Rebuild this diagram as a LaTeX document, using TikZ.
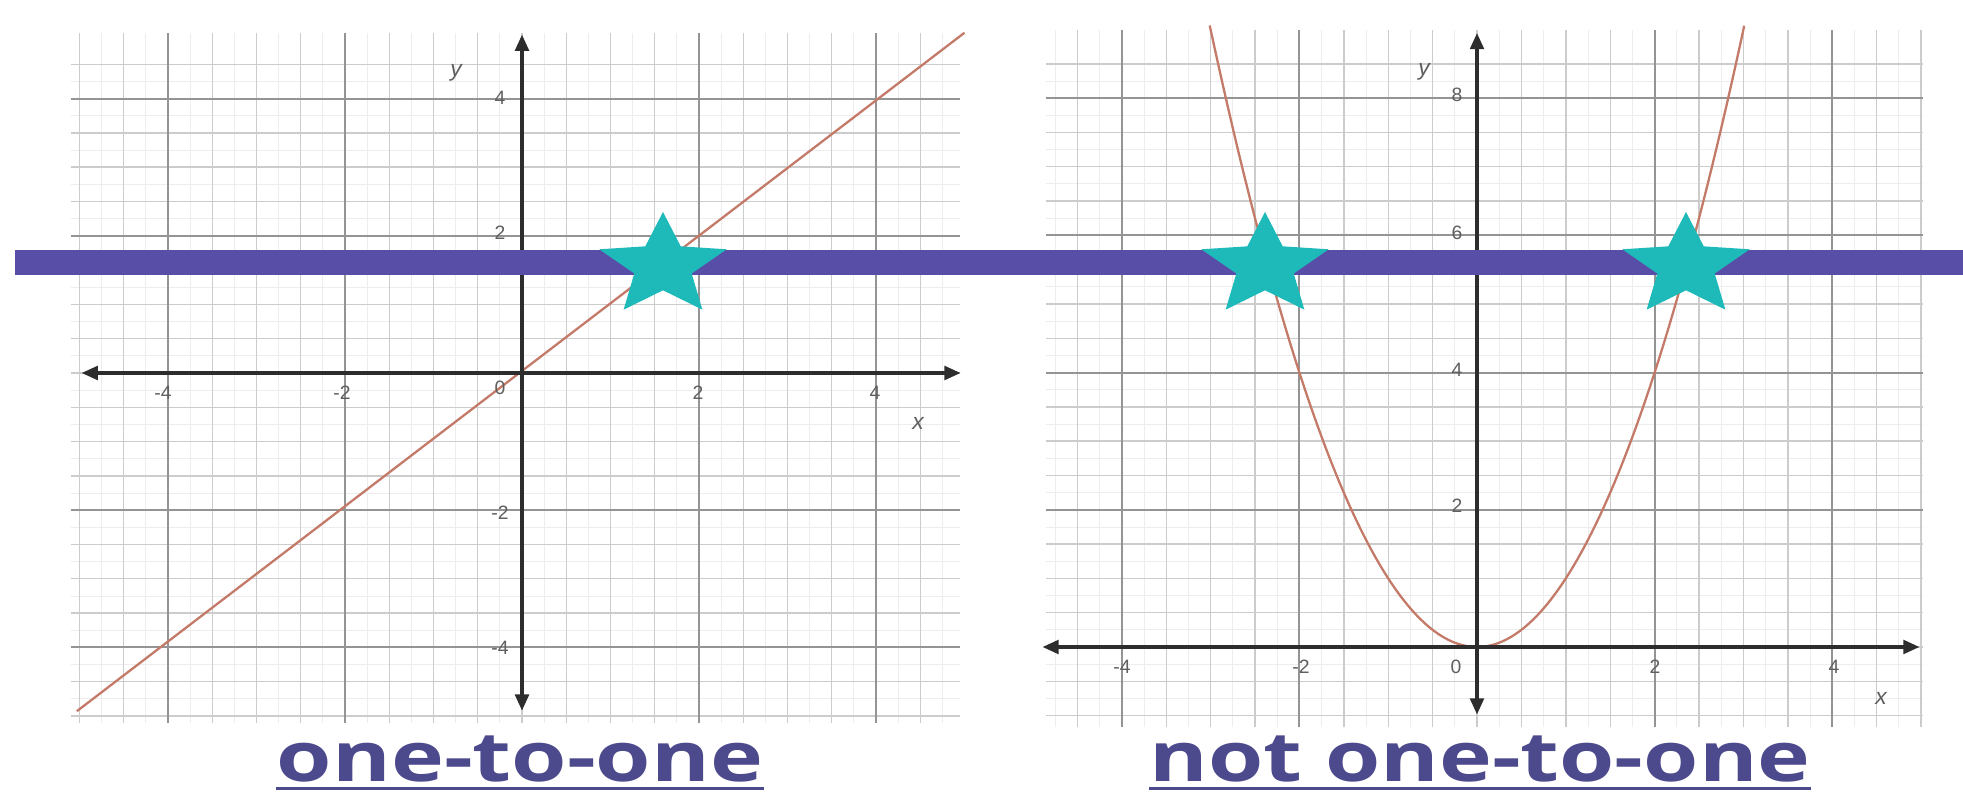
\documentclass[tikz,border=0pt]{standalone}
\usepackage{fontspec}
\usepackage{graphicx}
\setmainfont{Liberation Sans}
\newfontfamily\titlefont{Open Sans}
\usetikzlibrary{arrows.meta}
\definecolor{bandcol}{RGB}{88,78,168}
\definecolor{starcol}{RGB}{30,186,186}
\definecolor{curvecol}{RGB}{196,122,104}
\definecolor{titlecol}{RGB}{76,73,140}
\definecolor{axcol}{RGB}{45,45,45}
\definecolor{labcol}{RGB}{95,95,95}
\begin{document}
\begin{tikzpicture}[x=0.01cm,y=-0.01cm,
  gridfine/.style={draw=black!7, line width=0.25pt},
  gridminor/.style={draw=black!20, line width=0.4pt},
  gridmajor/.style={draw=black!42, line width=0.6pt},
  axisline/.style={draw=axcol, line width=0.9pt, {Triangle[length=4.6pt,width=3.9pt]}-{Triangle[length=4.6pt,width=3.9pt]}},
  curve/.style={draw=curvecol, line width=0.65pt},
  bandstyle/.style={fill=bandcol},
  starshape/.style={fill=starcol},
  ticklab/.style={text=labcol, font=\fontsize{5.5pt}{6pt}\selectfont, inner sep=0pt},
  axlab/.style={text=labcol, font=\fontsize{6.5pt}{7pt}\selectfont\itshape, inner sep=0pt},
  titletext/.style={text=titlecol, inner sep=0pt, anchor=base},
  uline/.style={draw=titlecol, line width=0.85pt}]
\useasboundingbox (0,0) rectangle (1963,795);
\fill[white] (0,0) rectangle (1963,795);

% ---------- left graph: y = x ----------
\begin{scope}[shift={(522,373)}, xscale=88.5, yscale=-68.6]
  \foreach \i in {-20,...,19} \draw[gridfine] (\i/4,-5.1) -- (\i/4,4.95);
  \foreach \i in {-20,...,18} \draw[gridfine] (-5.1,\i/4) -- (4.95,\i/4);
  \foreach \i in {-10,...,9} \draw[gridminor] (\i/2,-5.1) -- (\i/2,4.95);
  \foreach \i in {-10,...,9} \draw[gridminor] (-5.1,\i/2) -- (4.95,\i/2);
  \foreach \u in {-4,-2,2,4} \draw[gridmajor] (\u,-5.1) -- (\u,4.95);
  \foreach \u in {-4,-2,2,4} \draw[gridmajor] (-5.1,\u) -- (4.95,\u);
  \draw[curve] (-5.03,-4.93) -- (5,4.96);
  \coordinate (lxa) at (-5.02,0); \coordinate (lxb) at (5,0);
  \coordinate (lya) at (0,-4.95); \coordinate (lyb) at (0,4.96);
  \draw[axisline] (lxa) -- (lxb);
  \draw[axisline] (lya) -- (lyb);
\end{scope}
\node[axlab] (ly) at (456,73) {y};
\node[axlab] (lx) at (918,423) {x};
\node[ticklab] (lxm4) at (163,393) {-4};
\node[ticklab] (lxm2) at (342,393) {-2};
\node[ticklab] (lx0) at (500,388) {0};
\node[ticklab] (lx2) at (698,393) {2};
\node[ticklab] (lx4) at (875,393) {4};
\node[ticklab] (ly4) at (500,98) {4};
\node[ticklab] (ly2) at (500,233) {2};
\node[ticklab] (lym2) at (500,513) {-2};
\node[ticklab] (lym4) at (500,648) {-4};

% ---------- right graph: y = x^2 ----------
\begin{scope}[shift={(1477,647)}, xscale=88.8, yscale=-68.6]
  \foreach \i in {-19,...,20} \draw[gridfine] (\i/4,-1.17) -- (\i/4,9.0);
  \foreach \i in {-4,...,34} \draw[gridfine] (-4.85,\i/4) -- (5.02,\i/4);
  \foreach \i in {-9,...,10} \draw[gridminor] (\i/2,-1.17) -- (\i/2,9.0);
  \foreach \i in {-2,...,17} \draw[gridminor] (-4.85,\i/2) -- (5.02,\i/2);
  \foreach \u in {-4,-2,2,4} \draw[gridmajor] (\u,-1.17) -- (\u,9.0);
  \foreach \u in {2,4,6,8} \draw[gridmajor] (-4.85,\u) -- (5.02,\u);
  \draw[curve] plot[domain=-3.01:3.01, samples=120] (\x,{\x*\x});
  \coordinate (rxa) at (-4.92,0); \coordinate (rxb) at (5.01,0);
  \coordinate (rya) at (0,-0.99); \coordinate (ryb) at (0,9.0);
  \draw[axisline] (rxa) -- (rxb);
  \draw[axisline] (rya) -- (ryb);
\end{scope}
\node[axlab] (ry) at (1424,72) {y};
\node[axlab] (rx) at (1881,698) {x};
\node[ticklab] (rxm4) at (1122,667) {-4};
\node[ticklab] (rxm2) at (1301,667) {-2};
\node[ticklab] (rx0) at (1456,667) {0};
\node[ticklab] (rx2) at (1655,667) {2};
\node[ticklab] (rx4) at (1834,667) {4};
\node[ticklab] (ry8) at (1457,95) {8};
\node[ticklab] (ry6) at (1457,233) {6};
\node[ticklab] (ry4) at (1457,370) {4};
\node[ticklab] (ry2) at (1457,506) {2};

% ---------- horizontal line test band ----------
\fill[bandstyle] (15,250) rectangle (1963,275);

% ---------- stars ----------
\foreach \cx in {663,1265,1686}
  \fill[starshape, shift={(\cx,266)}, xscale=67, yscale=-54]
    (90:1) -- (126:0.45) -- (162:1) -- (198:0.45) -- (234:1) -- (270:0.45)
    -- (306:1) -- (342:0.45) -- (18:1) -- (54:0.45) -- cycle;

% ---------- titles ----------
\node[titletext] (t1) at (520,782)
  {\resizebox{4.86cm}{\height}{\titlefont\bfseries\fontsize{19.6pt}{22pt}\selectfont one-to-one}};
\draw[uline] ([yshift=-0.065cm]t1.base west) -- ([yshift=-0.065cm]t1.base east);
\node[titletext] (t2) at (1480,782)
  {\resizebox{6.61cm}{\height}{\titlefont\bfseries\fontsize{19.6pt}{22pt}\selectfont not one-to-one}};
\draw[uline] ([yshift=-0.065cm]t2.base west) -- ([yshift=-0.065cm]t2.base east);
\end{tikzpicture}
\end{document}
